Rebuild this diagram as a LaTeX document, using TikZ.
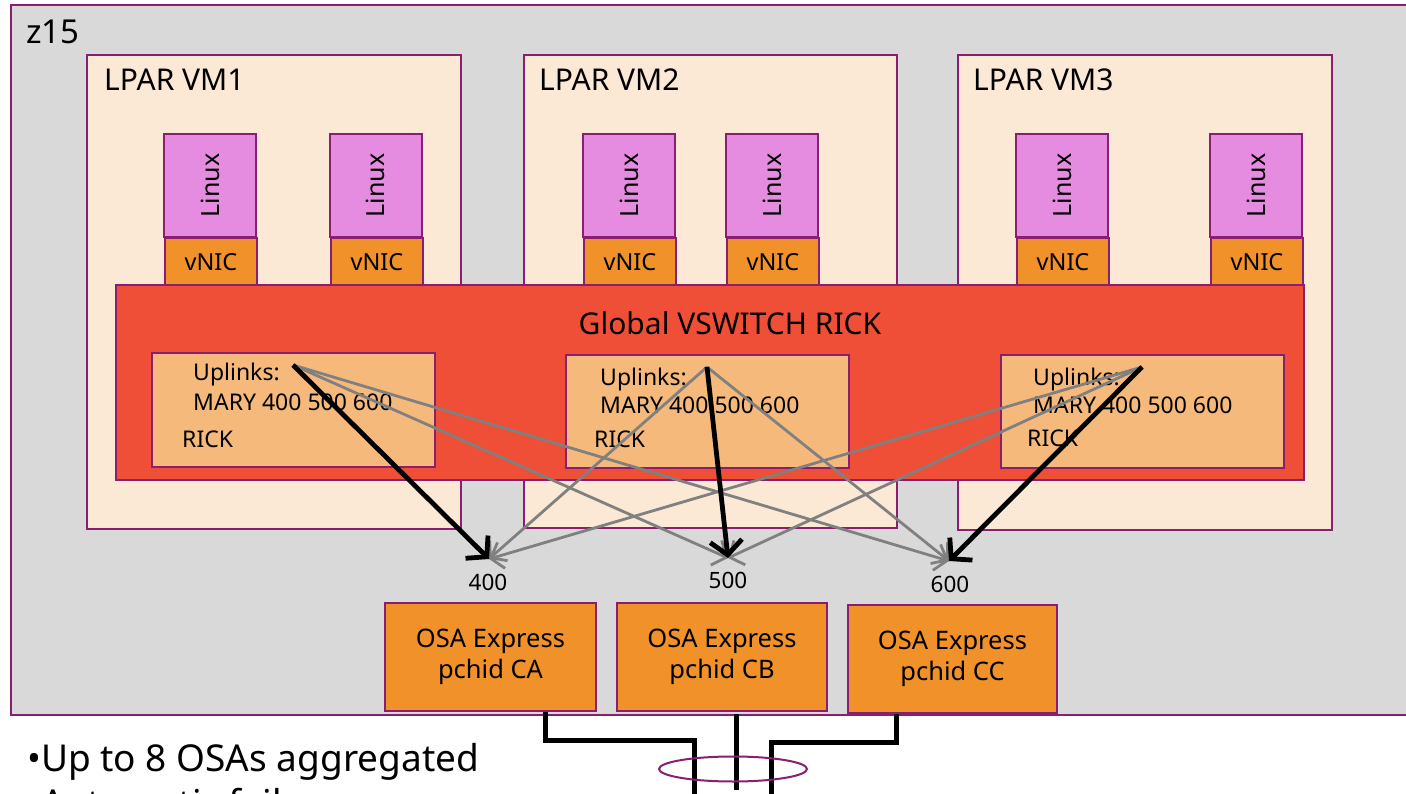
\documentclass[tikz,border=0pt]{standalone}
\usepackage{fontspec}
\setmainfont{Noto Sans}
\usetikzlibrary{arrows.meta}
\definecolor{pborder}{HTML}{8A1F72}
\definecolor{zgray}{HTML}{D9D9D9}
\definecolor{lparfill}{HTML}{FBE8D5}
\definecolor{linuxfill}{HTML}{E58BE0}
\definecolor{nicfill}{HTML}{F0912A}
\definecolor{vswfill}{HTML}{F04F37}
\definecolor{upfill}{HTML}{F6B97C}
\definecolor{arrgray}{HTML}{808080}
\tikzset{
  box/.style={draw=pborder, line width=2pt, inner sep=0pt, anchor=north west},
  zbox/.style={box, fill=zgray},
  lpar/.style={box, fill=lparfill},
  linuxbox/.style={draw=pborder, line width=2pt, inner sep=0pt, fill=linuxfill, rotate=90,
     minimum width=103pt, minimum height=92pt, font=\fontsize{25}{28}\selectfont},
  nic/.style={box, fill=nicfill, minimum width=92pt, minimum height=48pt},
  vsw/.style={box, fill=vswfill},
  upbox/.style={box, fill=upfill, minimum width=283pt},
  osa/.style={draw=pborder, line width=2pt, fill=nicfill, inner sep=0pt, anchor=north west,
     align=center, font=\fontsize{25.5}{31}\selectfont},
  title/.style={anchor=base west, inner sep=0pt, font=\fontsize{30}{32}\selectfont},
  uptext/.style={anchor=base west, inner sep=0pt, font=\fontsize{23}{26}\selectfont},
  numlbl/.style={anchor=base, inner sep=0pt, font=\fontsize{22.5}{24}\selectfont},
  grayarr/.style={draw=arrgray, line width=2.8pt, -{Straight Barb[length=11pt,width=27pt]}},
  blackarr/.style={draw=black, line width=4.8pt, -{Straight Barb[length=14pt,width=32pt]}},
  cable/.style={draw=black, line width=5pt, miter limit=10}
}
\begin{document}
\begin{tikzpicture}[x=1pt,y=-1pt]
\useasboundingbox (0,0) rectangle (1406,794);
\clip (0,0) rectangle (1406,794);
\fill[white] (0,0) rectangle (1406,794);

% z15 frame
\node[zbox, minimum width=1420pt, minimum height=710pt] (z15) at (10,4) {};
\node[title, font=\fontsize{33}{36}\selectfont] (z15lbl) at (26,44) {z15};

% LPARs
\node[lpar, minimum width=374pt, minimum height=474pt] (lpar1) at (86,54) {};
\node[lpar, minimum width=373pt, minimum height=473pt] (lpar2) at (523,54) {};
\node[lpar, minimum width=374pt, minimum height=475pt] (lpar3) at (957,54) {};
\node[title] (lp1lbl) at (104,91) {LPAR VM1};
\node[title] (lp2lbl) at (539,91) {LPAR VM2};
\node[title] (lp3lbl) at (973,91) {LPAR VM3};

% Linux guests
\node[linuxbox] (lin1) at (210,185.5) {Linux};
\node[linuxbox] (lin2) at (375.5,185.5) {Linux};
\node[linuxbox] (lin3) at (629,185.5) {Linux};
\node[linuxbox] (lin4) at (772,185.5) {Linux};
\node[linuxbox] (lin5) at (1062,185.5) {Linux};
\node[linuxbox] (lin6) at (1256,185.5) {Linux};

% vNICs
\node[nic] (nic1) at (164,237) {};
\node[nic] (nic2) at (330,237) {};
\node[nic] (nic3) at (583,237) {};
\node[nic] (nic4) at (726,237) {};
\node[nic] (nic5) at (1016,237) {};
\node[nic] (nic6) at (1210,237) {};
\foreach \n in {1,...,6}{
  \node[font=\fontsize{23.5}{26}\selectfont, inner sep=0pt] (nictxt\n) at (nic\n.center) {vNIC};
}

% Global VSWITCH
\node[vsw, minimum width=1188pt, minimum height=195pt] (vsw) at (115,284) {};
\node[anchor=base, inner sep=0pt, font=\fontsize{30}{32}\selectfont] (vswlbl) at (730,335) {Global VSWITCH RICK};

% Uplink boxes
\node[upbox, minimum height=114pt] (up1) at (151,352) {};
\node[upbox, minimum height=113pt] (up2) at (565,354) {};
\node[upbox, minimum height=113pt] (up3) at (1000,354) {};
\node[uptext] (u1a) at (193,381) {Uplinks:};
\node[uptext] (u1b) at (193,410) {MARY 400 500 600};
\node[uptext] (u1c) at (182,447) {RICK};
\node[uptext] (u2a) at (600,385) {Uplinks:};
\node[uptext] (u2b) at (600,413) {MARY 400 500 600};
\node[uptext] (u2c) at (594,447) {RICK};
\node[uptext] (u3a) at (1033,385) {Uplinks:};
\node[uptext] (u3b) at (1033,413) {MARY 400 500 600};
\node[uptext] (u3c) at (1027,446) {RICK};

% OSA cards
\node[osa, minimum width=211pt, minimum height=108pt] (osaA) at (384,602) {OSA Express\\pchid CA};
\node[osa, minimum width=210pt, minimum height=108pt] (osaB) at (616,602) {OSA Express\\pchid CB};
\node[osa, minimum width=209pt, minimum height=108pt] (osaC) at (847,604) {OSA Express\\pchid CC};

\node[numlbl] (n400) at (488,590) {400};
\node[numlbl] (n500) at (728,588) {500};
\node[numlbl] (n600) at (950,592) {600};

% arrow endpoints
\coordinate (s1) at (293,365);
\coordinate (s2) at (707,367);
\coordinate (s3) at (1142,367);
\coordinate (t400) at (489,559);
\coordinate (t500) at (728,558);
\coordinate (t600) at (949,561);

\draw[grayarr] (s1) -- (t500);
\draw[grayarr] (s1) -- (t600);
\draw[grayarr] (s2) -- (t400);
\draw[grayarr] (s2) -- (t600);
\draw[grayarr] (s3) -- (t400);
\draw[grayarr] (s3) -- (t500);
\draw[blackarr] (s1) -- (t400);
\draw[blackarr] (s2) -- (t500);
\draw[blackarr] (s3) -- (t600);

% cables
\coordinate (cAend) at (694,800);
\coordinate (cBend) at (736,790);
\coordinate (cCend) at (771,800);
\draw[cable] (osaA.south -| 545,0) |- (694,740) -- (cAend);
\draw[cable] (736,714) -- (cBend);
\draw[cable] (osaC.south -| 896,0) |- (771,742) -- (cCend);
\draw[draw=pborder, line width=2pt] (733,769) ellipse [x radius=74, y radius=12.5];

% bottom text
\node[anchor=base west, inner sep=0pt, font=\fontsize{37}{42}\selectfont] (b1) at (27,771) {•Up to 8 OSAs aggregated};
\node[anchor=base west, inner sep=0pt, font=\fontsize{37}{42}\selectfont] (b2) at (27,816) {•Automatic failover};
\end{tikzpicture}
\end{document}
